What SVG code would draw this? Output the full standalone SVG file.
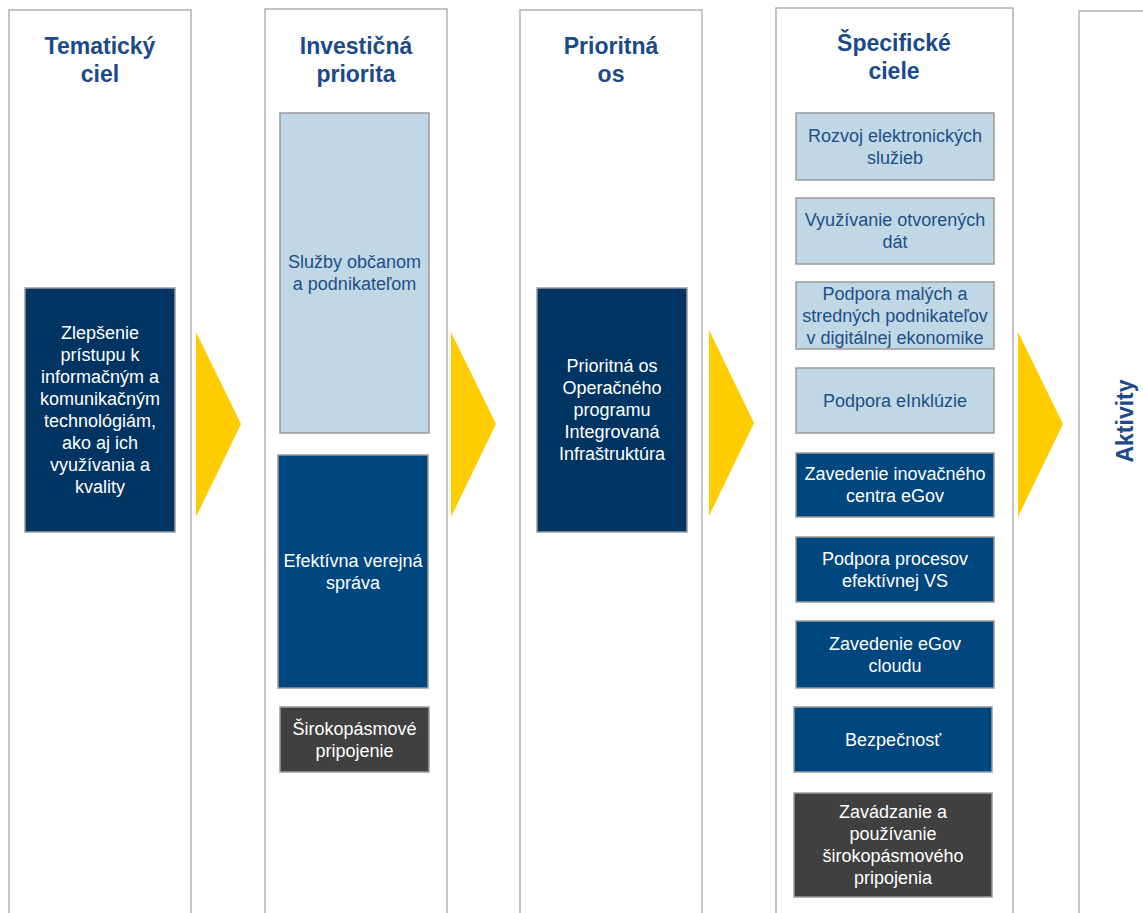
<svg xmlns="http://www.w3.org/2000/svg" width="1143" height="913" viewBox="0 0 1143 913">
<style>
.col{fill:#ffffff;stroke:#b3b3b3;stroke-width:1.5}
.hdr{font-family:"Liberation Sans",Arial,sans-serif;font-weight:bold;font-size:23px;fill:#1a4a8a;text-anchor:middle}
.t{font-family:"Liberation Sans",Arial,sans-serif;font-size:18px;text-anchor:middle}
.tw{fill:#ffffff}
.tb{fill:#1f4e86}
.navy{fill:#003462;stroke:#9a9a9a;stroke-width:1.5}
.blue{fill:#00467f;stroke:#9a9a9a;stroke-width:1.5}
.light{fill:#c0d7e6;stroke:#9a9a9a;stroke-width:1.5}
.gray{fill:#404040;stroke:#9a9a9a;stroke-width:1.5}
.arr{fill:#ffcc00}
</style>
<rect width="1143" height="913" fill="#ffffff"/>
<g id="columns">
<rect class="col" x="9" y="10" width="182" height="915"/>
<rect class="col" x="265" y="9" width="182" height="915"/>
<rect class="col" x="520" y="10" width="182" height="915"/>
<rect class="col" x="776" y="8" width="237" height="915"/>
<rect class="col" x="1079" y="11" width="80" height="915"/>
<text class="hdr" x="100" y="54">Tematický<tspan x="100" dy="28">ciel</tspan></text>
<text class="hdr" x="356" y="54">Investičná<tspan x="356" dy="28">priorita</tspan></text>
<text class="hdr" x="611" y="54">Prioritná<tspan x="611" dy="28">os</tspan></text>
<text class="hdr" x="894" y="51">Špecifické<tspan x="894" dy="28">ciele</tspan></text>
<text class="hdr" x="0" y="0" transform="translate(1133,421) rotate(-90)">Aktivity</text>
</g>
<g id="connectors">
<polygon class="arr" points="196,332 241,424 196,517"/>
<polygon class="arr" points="451,332 496,424 451,517"/>
<polygon class="arr" points="709,330 754,423 709,516"/>
<polygon class="arr" points="1018,332 1063,424 1018,517"/>
</g>
<g id="n-tematicky">
<rect class="navy" x="25" y="288" width="150" height="244"/>
<text class="t tw" x="100" y="339">Zlepšenie<tspan x="100" dy="22">prístupu k</tspan><tspan x="100" dy="22">informačným a</tspan><tspan x="100" dy="22">komunikačným</tspan><tspan x="100" dy="22">technológiám,</tspan><tspan x="100" dy="22">ako aj ich</tspan><tspan x="100" dy="22">využívania a</tspan><tspan x="100" dy="22">kvality</tspan></text>
</g>
<g id="n-sluzby">
<rect class="light" x="280" y="113" width="149" height="320"/>
<text class="t tb" x="354.5" y="268">Služby občanom<tspan x="354.5" dy="22">a podnikateľom</tspan></text>
</g>
<g id="n-efektivna">
<rect class="blue" x="278" y="455" width="150" height="233"/>
<text class="t tw" x="353" y="566.5">Efektívna verejná<tspan x="353" dy="22">správa</tspan></text>
</g>
<g id="n-sirokopasmove">
<rect class="gray" x="280" y="707" width="149" height="65"/>
<text class="t tw" x="354.5" y="734.5">Širokopásmové<tspan x="354.5" dy="22">pripojenie</tspan></text>
</g>
<g id="n-prioritna">
<rect class="navy" x="537" y="288" width="150" height="244"/>
<text class="t tw" x="612" y="372">Prioritná os<tspan x="612" dy="22">Operačného</tspan><tspan x="612" dy="22">programu</tspan><tspan x="612" dy="22">Integrovaná</tspan><tspan x="612" dy="22">Infraštruktúra</tspan></text>
</g>
<g id="n-rozvoj">
<rect class="light" x="796" y="113" width="198" height="67"/>
<text class="t tb" x="895" y="141.5">Rozvoj elektronických<tspan x="895" dy="22">služieb</tspan></text>
</g>
<g id="n-vyuzivanie">
<rect class="light" x="796" y="198" width="198" height="66"/>
<text class="t tb" x="895" y="226">Využívanie otvorených<tspan x="895" dy="22">dát</tspan></text>
</g>
<g id="n-podpora-malych">
<rect class="light" x="796" y="282" width="198" height="67"/>
<text class="t tb" x="895" y="299.5">Podpora malých a<tspan x="895" dy="22">stredných podnikateľov</tspan><tspan x="895" dy="22">v digitálnej ekonomike</tspan></text>
</g>
<g id="n-einkluzie">
<rect class="light" x="796" y="368" width="198" height="65"/>
<text class="t tb" x="895" y="406.5">Podpora eInklúzie</text>
</g>
<g id="n-inovacne">
<rect class="blue" x="796" y="453" width="198" height="64"/>
<text class="t tw" x="895" y="480">Zavedenie inovačného<tspan x="895" dy="22">centra eGov</tspan></text>
</g>
<g id="n-procesy">
<rect class="blue" x="796" y="537" width="198" height="65"/>
<text class="t tw" x="895" y="564.5">Podpora procesov<tspan x="895" dy="22">efektívnej VS</tspan></text>
</g>
<g id="n-cloud">
<rect class="blue" x="796" y="621" width="198" height="67"/>
<text class="t tw" x="895" y="649.5">Zavedenie eGov<tspan x="895" dy="22">cloudu</tspan></text>
</g>
<g id="n-bezpecnost">
<rect class="blue" x="794" y="707" width="198" height="65"/>
<text class="t tw" x="893" y="745.5">Bezpečnosť</text>
</g>
<g id="n-zavadzanie">
<rect class="gray" x="794" y="793" width="198" height="104"/>
<text class="t tw" x="893" y="818">Zavádzanie a<tspan x="893" dy="22">používanie</tspan><tspan x="893" dy="22">širokopásmového</tspan><tspan x="893" dy="22">pripojenia</tspan></text>
</g>
</svg>
